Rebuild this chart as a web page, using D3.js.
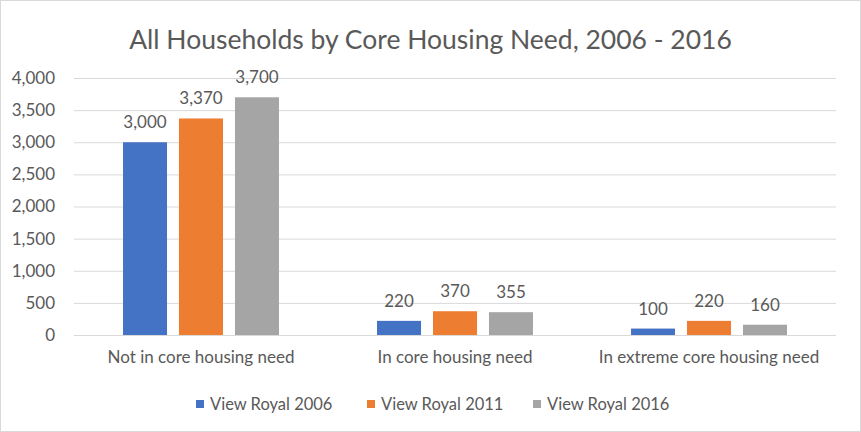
<!DOCTYPE html>
<html>
<head>
<meta charset="utf-8">
<script src="https://cdn.jsdelivr.net/npm/d3@7"></script>
<style>
  body { margin: 0; background: #fff; }
  text { font-family: Lato, "Open Sans", sans-serif; fill: #595959; }
</style>
</head>
<body>
<script>
(() => {
    const categories = ["Not in core housing need", "In core housing need", "In extreme core housing need"]
    const seriesNames = ["View Royal 2006", "View Royal 2011", "View Royal 2016"]
    const vr2006 = [3000, 220, 100]
    const vr2011 = [3370, 370, 220]
    const vr2016 = [3700, 355, 160]
    const yTicks = [0, 500, 1000, 1500, 2000, 2500, 3000, 3500, 4000]
    const colors = ["#4472c4", "#ed7d31", "#a5a5a5"]

    const series = [vr2006, vr2011, vr2016]
    const W = 861, H = 432
    const left = 74, right = 836, top = 78, bottom = 335

    const svg = d3.select("body")
        .append("svg")
        .attr("width", W)
        .attr("height", H)

    svg.append("rect")
        .attr("x", 0.5).attr("y", 0.5)
        .attr("width", W - 1).attr("height", H - 1)
        .attr("fill", "#fff")
        .attr("stroke", "#d9d9d9")

    svg.append("text")
        .attr("x", W / 2)
        .attr("y", 49)
        .attr("text-anchor", "middle")
        .style("font-size", "26.5px")
        .text("All Households by Core Housing Need, 2006 - 2016")

    const y = d3.scaleLinear().domain([0, 4000]).range([bottom, top])
    const x0 = d3.scaleBand().domain(categories).range([left, right])
        .paddingInner(0.386).paddingOuter(0.193)
    const x1 = d3.scaleBand().domain(d3.range(3)).range([0, x0.bandwidth()])
        .paddingInner(0.214)

    // gridlines
    svg.append("g")
        .selectAll("line")
        .data(yTicks)
        .join("line")
        .attr("x1", left).attr("x2", right)
        .attr("y1", (d) => y(d) + 0.5).attr("y2", (d) => y(d) + 0.5)
        .attr("stroke", "#d9d9d9")

    const yAxis = svg.append("g")
        .attr("transform", `translate(${left - 16},0)`)
        .call(d3.axisLeft(y).tickValues(yTicks).tickSize(0).tickFormat(d3.format(",")))
    yAxis.select(".domain").remove()
    yAxis.selectAll("text").style("font-size", "17px").attr("fill", "#595959")

    const xAxis = svg.append("g")
        .attr("transform", `translate(0,${bottom})`)
        .call(d3.axisBottom(x0).tickSize(0).tickPadding(16))
    xAxis.select(".domain").remove()
    xAxis.selectAll("text").style("font-size", "17px").attr("fill", "#595959")

    const rows = categories.flatMap((c, ci) =>
        series.map((s, si) => ({ cat: c, si, v: s[ci] })))

    svg.append("g")
        .selectAll("rect")
        .data(rows)
        .join("rect")
        .attr("x", (d) => x0(d.cat) + x1(d.si))
        .attr("y", (d) => y(d.v))
        .attr("width", x1.bandwidth())
        .attr("height", (d) => y(0) - y(d.v))
        .attr("fill", (d) => colors[d.si])

    svg.append("g")
        .selectAll("text")
        .data(rows)
        .join("text")
        .attr("x", (d) => x0(d.cat) + x1(d.si) + x1.bandwidth() / 2)
        .attr("y", (d) => y(d.v) - 14)
        .attr("text-anchor", "middle")
        .style("font-size", "17px")
        .text((d) => d3.format(",")(d.v))

    const legendX = [196, 367, 533]
    const legend = svg.append("g")
        .selectAll("g")
        .data(seriesNames)
        .join("g")
        .attr("transform", (_, i) => `translate(${legendX[i]},404)`)
    legend.append("rect")
        .attr("x", 0).attr("y", -4)
        .attr("width", 8).attr("height", 8)
        .attr("fill", (_, i) => colors[i])
    legend.append("text")
        .attr("x", 14).attr("y", 6)
        .style("font-size", "16.5px")
        .text((d) => d)
})()
</script>
</body>
</html>
